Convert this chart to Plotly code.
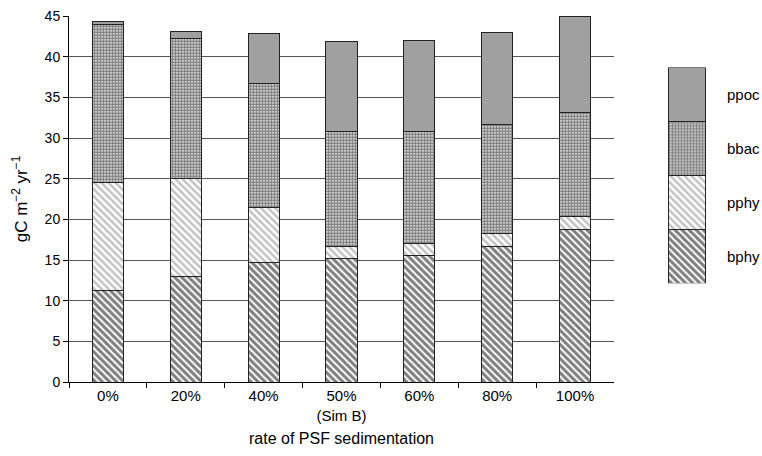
import plotly.graph_objects as go

categories = ["0%", "20%", "40%", "50%<br>(Sim B)", "60%", "80%", "100%"]
bphy = [11.3, 13.0, 14.7, 15.2, 15.5, 16.7, 18.7]
pphy = [13.2, 12.0, 6.8, 1.5, 1.5, 1.5, 1.6]
bbac = [19.5, 17.2, 15.2, 14.1, 13.8, 13.4, 12.8]
ppoc = [0.35, 0.9, 6.2, 11.1, 11.2, 11.4, 11.9]

series_names = ["bphy", "pphy", "bbac", "ppoc"]
series_values = [bphy, pphy, bbac, ppoc]
legend_key_value = [1]

FONT = "Liberation Sans, Arial, sans-serif"
styles = {
    "bphy": dict(color="white", pattern=dict(shape="\\", fgcolor="black", bgcolor="white", size=5, solidity=0.6)),
    "pphy": dict(color="white", pattern=dict(shape="\\", fgcolor="#888888", bgcolor="white", size=5, solidity=0.5)),
    "bbac": dict(color="white", pattern=dict(shape=".", fgcolor="black", bgcolor="white", size=3, solidity=0.75)),
    "ppoc": dict(color="#a0a0a0"),
}
line = dict(color="#222222", width=1)

fig = go.Figure()
for name, vals in zip(series_names, series_values):
    fig.add_trace(go.Bar(x=categories, y=vals, name=name, width=0.4,
                         marker=dict(**styles[name], line=line),
                         xaxis="x", yaxis="y", showlegend=False))
    # legend key
    fig.add_trace(go.Bar(x=["key"], y=legend_key_value, name=name, width=1,
                         marker=dict(**styles[name], line=line),
                         xaxis="x2", yaxis="y2", showlegend=False, hoverinfo="skip"))

annotations = []
for i, name in enumerate(series_names):
    annotations.append(dict(text=name, xref="x2 domain", x=1, xanchor="left", xshift=19,
                            yref="y2", y=i + 0.5, yanchor="middle", showarrow=False,
                            font=dict(family=FONT, size=15, color="black")))

fig.update_layout(
    width=762, height=456,
    margin=dict(l=69, r=8, t=15.5, b=74.3, autoexpand=False),
    barmode="stack",
    plot_bgcolor="white", paper_bgcolor="white",
    font=dict(family=FONT, size=13, color="black"),
    annotations=annotations,
    xaxis=dict(domain=[0, 0.7956], type="category", tickson="boundaries",
               ticks="outside", ticklen=5, tickcolor="black", automargin=False,
               showline=True, linecolor="black", linewidth=1, showgrid=False,
               tickfont=dict(size=15),
               title=dict(text="rate of PSF sedimentation", font=dict(size=16), standoff=10)),
    yaxis=dict(range=[0, 45], dtick=5, ticks="outside", ticklen=5, tickcolor="black",
               showline=True, linecolor="black", linewidth=1, automargin=False,
               showgrid=True, gridcolor="#555555", gridwidth=1, zeroline=False,
               tickfont=dict(size=14),
               title=dict(text="gC m<sup>−2</sup> yr<sup>−1</sup>", font=dict(size=17), standoff=12)),
    xaxis2=dict(domain=[0.8745, 0.9299], anchor="y2", range=[-0.5, 0.5],
                visible=False, type="category"),
    yaxis2=dict(domain=[0.2695, 0.8594], anchor="x2", range=[0, 4], visible=False),
)

fig.write_html("out.html", config={"displayModeBar": False},
               post_script="document.body.style.margin='0';document.body.style.overflow='hidden';")
